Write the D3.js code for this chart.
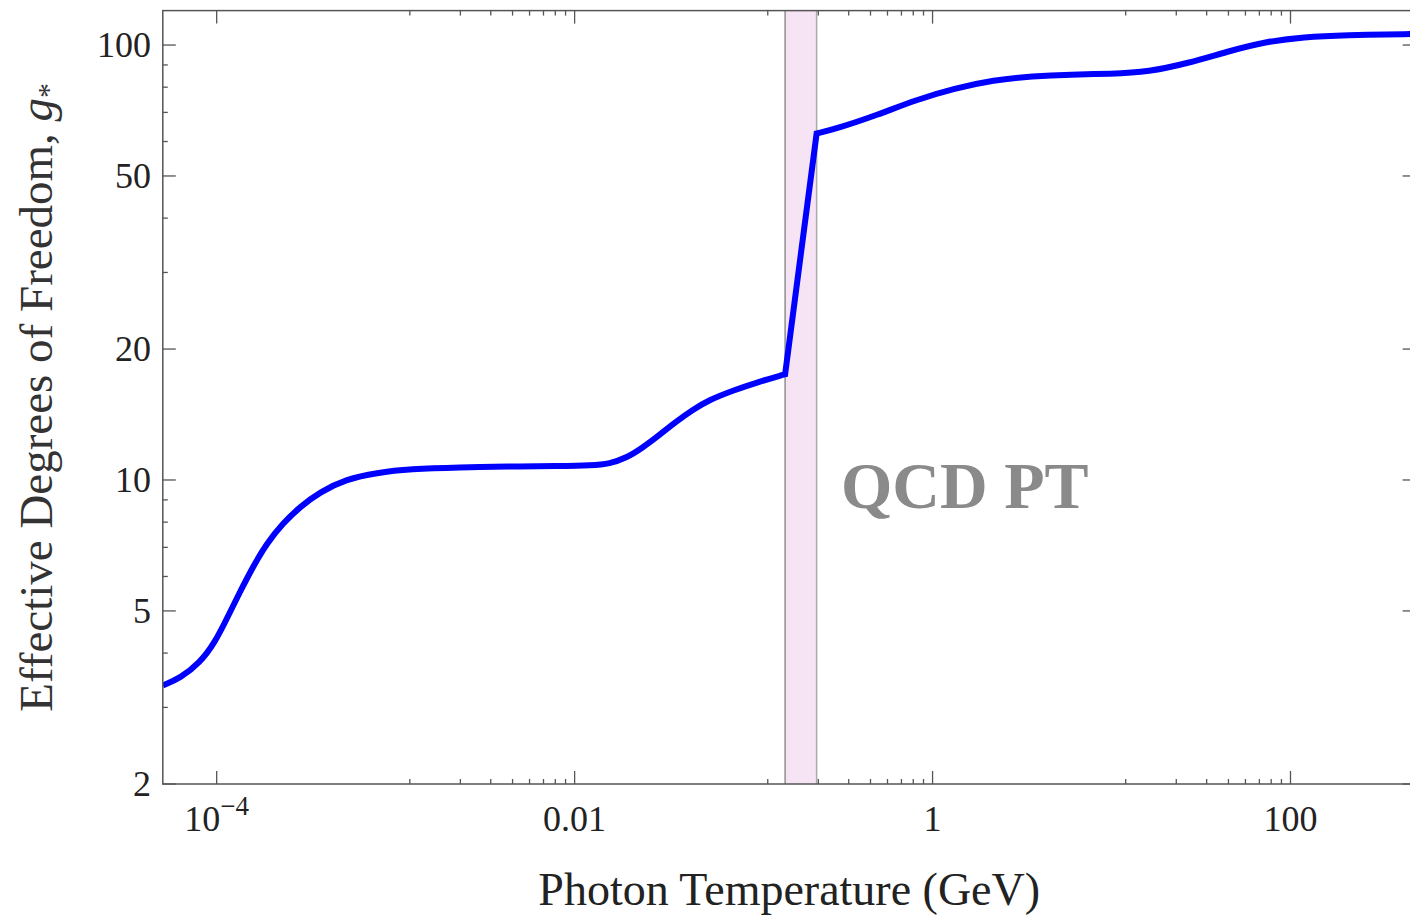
<!DOCTYPE html>
<html>
<head>
<meta charset="utf-8">
<script src="https://cdn.jsdelivr.net/npm/d3@7"></script>
<style>
  html, body { margin: 0; padding: 0; background: #fff; }
  svg { display: block; }
  text { font-family: "Liberation Serif", "DejaVu Serif", serif; }
</style>
</head>
<body>
<div id="chart"></div>
<script>
"use strict";

// ------------------------- Data -------------------------

// photon temperature in GeV
const temperature = [
    5e-5, 6.24e-5, 8.07e-5, 9.8e-5, 1.14e-4, 1.34e-4, 1.6e-4, 1.9e-4, 2.35e-4,
    2.92e-4, 3.77e-4, 5.31e-4, 7.81e-4, 1.2e-3, 2.3e-3, 4.2e-3, 8.2e-3, 0.0125,
    0.0157, 0.0194, 0.0239, 0.0298, 0.0369, 0.0455, 0.0566, 0.076, 0.1076,
    0.1446, 0.15,
    0.225, 0.2965, 0.489, 0.806, 1.328, 2.19, 3.61, 5.96, 9.82, 16.2, 26.7,
    44, 72.6, 119.7, 197, 500
];

// effective degrees of freedom g*
const gStar = [
    3.37, 3.50, 3.80, 4.24, 4.80, 5.50, 6.33, 7.14, 7.96,
    8.67, 9.38, 10.05, 10.39, 10.6, 10.7, 10.74, 10.76, 10.8,
    10.9, 11.23, 11.85, 12.69, 13.62, 14.49, 15.28, 16.04, 16.83,
    17.43, 17.5,
    62.6, 64.4, 69.0, 74.8, 79.5, 83.1, 84.8, 85.6, 85.8, 86.8, 90.8,
    96.5, 101.8, 104.4, 105.4, 106.0
];

const qcdBand = [0.15, 0.225];
const qcdLabel = 'QCD PT';

const xDomain = [5e-5, 500];
const yDomain = [2, 120];

const xMajorTicks = [1e-4, 1e-2, 1, 100];
const xTickLabels = [['10', '\u22124'], ['0.01'], ['1'], ['100']];
const xMinorTicks = [
    0.0012, 0.0023, 0.0034, 0.0045, 0.0056, 0.0067, 0.0078, 0.0089,
    0.12, 0.23, 0.34, 0.45, 0.56, 0.67, 0.78, 0.89,
    12, 23, 34, 45, 56, 67, 78, 89
];

const yMajorTicks = [2, 5, 10, 20, 50, 100];
const yMinorTicks = [3, 4, 6, 7, 8, 9, 30, 40, 60, 70, 80, 90];

const xTitle = 'Photon Temperature (GeV)';
const yTitle = 'Effective Degrees of  Freedom, ';

// ------------------------- Layout -------------------------

const width = 1410;
const height = 918;
const plot = { left: 162.8, right: 1415.6, top: 10.6, bottom: 784 };
const majorLength = 13;
const minorLength = 5;
const frameColor = '#555';

const svg = d3.select('#chart')
    .append('svg')
    .attr('width', width)
    .attr('height', height);

const x = d3.scaleLog().domain(xDomain).range([plot.left, plot.right]);
const y = d3.scaleLog().domain(yDomain).range([plot.bottom, plot.top]);

svg.append('defs')
    .append('clipPath')
    .attr('id', 'plot-clip')
    .append('rect')
    .attr('x', plot.left)
    .attr('y', plot.top)
    .attr('width', plot.right - plot.left)
    .attr('height', plot.bottom - plot.top);

renderBand();
renderCurve();
renderFrame();
renderLabels();


// ------------------------- Rendering Helpers -------------------------

function renderBand() {
    const band = svg.append('g').classed('qcd-band', true);

    band.append('rect')
        .attr('x', x(qcdBand[0]))
        .attr('y', plot.top)
        .attr('width', x(qcdBand[1]) - x(qcdBand[0]))
        .attr('height', plot.bottom - plot.top)
        .attr('fill', '#f6e3f3');

    band.selectAll('line')
        .data(qcdBand)
        .enter()
        .append('line')
        .attr('x1', d => x(d))
        .attr('x2', d => x(d))
        .attr('y1', plot.top)
        .attr('y2', plot.bottom)
        .attr('stroke', (d, i) => i === 0 ? '#8f8f8f' : '#aaa')
        .attr('stroke-width', 1.5);

    svg.append('text')
        .attr('x', 841)
        .attr('y', 508)
        .attr('font-size', 66)
        .attr('font-weight', 'bold')
        .attr('fill', '#8a8a8a')
        .text(qcdLabel);
}

function renderCurve() {
    const points = temperature.map((t, i) => ({ t, g: gStar[i] }));
    const below = points.filter(p => p.t <= qcdBand[0]);
    const above = points.filter(p => p.t >= qcdBand[1]);

    // B-spline evens out the small reading errors in the sampled points
    const line = d3.line()
        .x(p => x(p.t))
        .y(p => y(p.g))
        .curve(d3.curveBasis);

    // smooth branches either side, straight jump across the transition
    const path = line(below) + line(above).replace(/^M/, 'L');

    svg.append('path')
        .attr('clip-path', 'url(#plot-clip)')
        .attr('d', path)
        .attr('fill', 'none')
        .attr('stroke', '#0000ff')
        .attr('stroke-width', 6)
        .attr('stroke-linejoin', 'miter');
}

function renderFrame() {
    const frame = svg.append('g').classed('frame', true);

    frame.append('rect')
        .attr('x', plot.left)
        .attr('y', plot.top)
        .attr('width', plot.right - plot.left)
        .attr('height', plot.bottom - plot.top)
        .attr('fill', 'none')
        .attr('stroke', frameColor)
        .attr('stroke-width', 1.5);

    const xTicks = xMajorTicks.map(v => ({ v, len: majorLength }))
        .concat(xMinorTicks.map(v => ({ v, len: minorLength })));
    const yTicks = yMajorTicks.map(v => ({ v, len: majorLength }))
        .concat(yMinorTicks.map(v => ({ v, len: minorLength })));

    // bottom and top
    [[plot.bottom, -1], [plot.top, 1]].forEach(([edge, dir]) => {
        frame.append('g').selectAll('line')
            .data(xTicks)
            .enter()
            .append('line')
            .attr('x1', d => x(d.v))
            .attr('x2', d => x(d.v))
            .attr('y1', edge)
            .attr('y2', d => edge + dir * d.len)
            .attr('stroke', frameColor)
            .attr('stroke-width', 1.3);
    });

    // left and right
    [[plot.left, 1], [plot.right, -1]].forEach(([edge, dir]) => {
        frame.append('g').selectAll('line')
            .data(yTicks)
            .enter()
            .append('line')
            .attr('y1', d => y(d.v))
            .attr('y2', d => y(d.v))
            .attr('x1', edge)
            .attr('x2', d => edge + dir * d.len)
            .attr('stroke', frameColor)
            .attr('stroke-width', 1.3);
    });
}

function renderLabels() {
    svg.append('g').selectAll('text')
        .data(yMajorTicks)
        .enter()
        .append('text')
        .attr('x', 151)
        .attr('y', d => y(d) + 12)
        .attr('text-anchor', 'end')
        .attr('font-size', 36)
        .attr('fill', '#222')
        .text(d => d);

    const xLabels = svg.append('g').selectAll('text')
        .data(xMajorTicks)
        .enter()
        .append('text')
        .attr('x', d => x(d))
        .attr('y', 831)
        .attr('text-anchor', 'middle')
        .attr('font-size', 36)
        .attr('fill', '#222');

    xLabels.each(function (d, i) {
        const parts = xTickLabels[i];
        const label = d3.select(this);
        label.append('tspan').text(parts[0]);
        if (parts.length > 1) {
            label.append('tspan')
                .attr('font-size', 27)
                .attr('dy', -16)
                .text(parts[1]);
        }
    });

    svg.append('text')
        .attr('x', (plot.left + plot.right) / 2)
        .attr('y', 905)
        .attr('text-anchor', 'middle')
        .attr('font-size', 46)
        .attr('fill', '#222')
        .text(xTitle);

    const yLabel = svg.append('text')
        .attr('transform', `translate(52, ${(plot.top + plot.bottom) / 2}) rotate(-90)`)
        .attr('text-anchor', 'middle')
        .attr('font-size', 47)
        .attr('fill', '#333');

    yLabel.append('tspan').text(yTitle);
    yLabel.append('tspan').attr('font-style', 'italic').text('g');
    yLabel.append('tspan')
        .attr('font-size', 30)
        .attr('dy', 6)
        .text('*');
}
</script>
</body>
</html>
